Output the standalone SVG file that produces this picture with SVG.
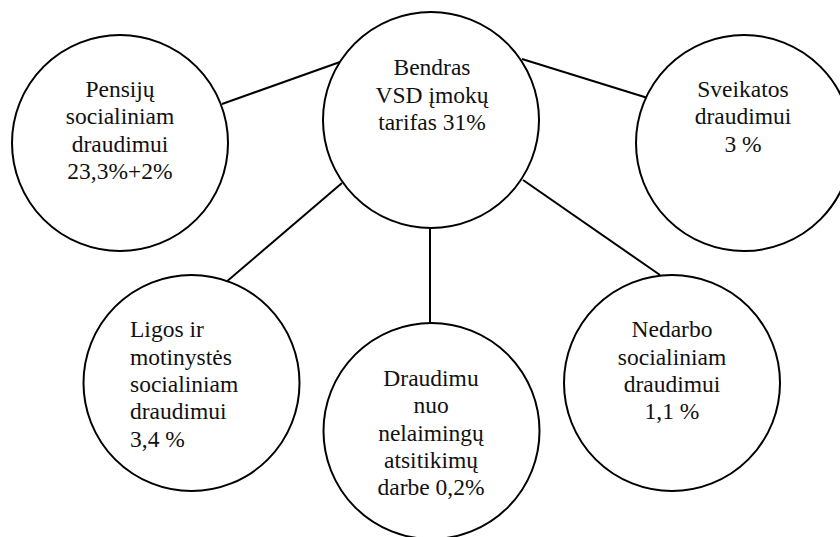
<svg xmlns="http://www.w3.org/2000/svg" width="840" height="537" viewBox="0 0 840 537">
<style>
.n{fill:#fff;stroke:#000;stroke-width:2}
.c line{stroke:#000;stroke-width:2}
text{font-family:"Liberation Serif","Times New Roman",serif;font-size:23.5px;fill:#111}
.m{text-anchor:middle}
</style>
<rect width="840" height="537" fill="#fff"/>
<g class="c" id="connectors">
<line x1="222" y1="104" x2="340" y2="62"/>
<line x1="342" y1="183" x2="225" y2="283"/>
<line x1="430" y1="228" x2="430" y2="323"/>
<line x1="522" y1="59" x2="651" y2="99"/>
<line x1="523" y1="180" x2="660" y2="275"/>
</g>
<g id="center">
<circle class="n" cx="431" cy="120" r="108"/>
<text class="m" x="432" y="75">Bendras</text>
<text class="m" x="432" y="102.5">VSD įmokų</text>
<text class="m" x="432" y="130">tarifas 31%</text>
</g>
<g id="pension">
<circle class="n" cx="120" cy="143" r="108"/>
<text class="m" x="120" y="96.7">Pensijų</text>
<text class="m" x="120" y="124">socialiniam</text>
<text class="m" x="120" y="151.5">draudimui</text>
<text class="m" x="120" y="179">23,3%+2%</text>
</g>
<g id="health">
<circle class="n" cx="744" cy="143" r="108"/>
<text class="m" x="743" y="96.7">Sveikatos</text>
<text class="m" x="743" y="124">draudimui</text>
<text class="m" x="743" y="151.5">3 %</text>
</g>
<g id="sickness">
<circle class="n" cx="191.5" cy="383" r="108"/>
<text x="130" y="337.3">Ligos ir</text>
<text x="130" y="364.5">motinystės</text>
<text x="130" y="391.7">socialiniam</text>
<text x="130" y="419">draudimui</text>
<text x="130" y="446.5">3,4 %</text>
</g>
<g id="accidents">
<circle class="n" cx="431.5" cy="431" r="108"/>
<text class="m" x="431" y="386">Draudimu</text>
<text class="m" x="431" y="413.3">nuo</text>
<text class="m" x="431" y="441">nelaimingų</text>
<text class="m" x="431" y="468.3">atsitikimų</text>
<text class="m" x="431" y="495">darbe 0,2%</text>
</g>
<g id="unemployment">
<circle class="n" cx="672" cy="383" r="108"/>
<text class="m" x="672" y="337.3">Nedarbo</text>
<text class="m" x="672" y="364.5">socialiniam</text>
<text class="m" x="672" y="391.7">draudimui</text>
<text class="m" x="672" y="419.3">1,1 %</text>
</g>
</svg>
